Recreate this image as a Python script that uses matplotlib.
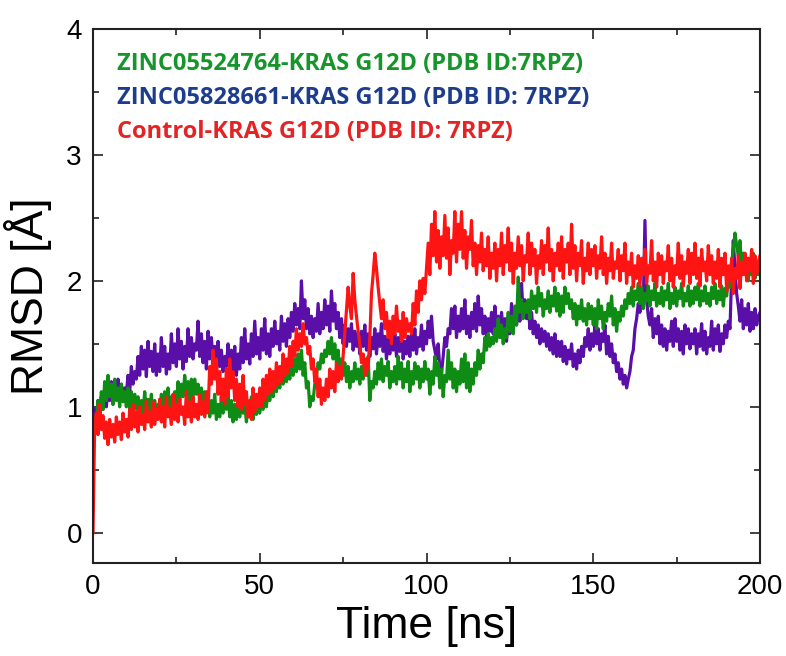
import numpy as np
import matplotlib
matplotlib.use("Agg")
import matplotlib.pyplot as plt
from matplotlib.ticker import MultipleLocator

# RMSD traces sampled every 0.5 ns from 0 to 200 ns
rmsd_control = [
    0.00, 0.85, 0.95, 0.78, 1.02, 0.82, 0.93, 0.75, 0.88, 0.70, 0.90, 0.76, 0.86, 0.72, 0.92, 0.78, 0.88, 0.74, 0.95, 0.80,
    0.90, 0.76, 0.98, 0.82, 1.02, 0.84, 0.96, 0.80, 1.00, 0.86, 0.94, 0.82, 1.05, 0.88, 0.96, 0.84, 1.04, 0.86, 0.98, 0.90,
    1.06, 0.88, 1.00, 0.84, 1.08, 0.92, 0.98, 0.86, 1.10, 0.90, 1.02, 0.88, 1.06, 0.94, 1.00, 0.86, 1.12, 0.92, 1.04, 0.88,
    1.08, 0.92, 1.02, 0.90, 1.10, 0.94, 1.04, 0.92, 1.12, 0.96, 1.32, 1.18, 1.45, 1.22, 1.38, 1.10, 1.28, 1.05, 1.22, 1.02,
    1.30, 1.08, 1.38, 1.15, 1.28, 1.05, 1.22, 1.00, 1.18, 0.98, 1.25, 1.02, 1.12, 0.92, 1.05, 0.90, 1.15, 0.96, 1.10, 1.00,
    1.15, 1.00, 1.22, 1.05, 1.25, 1.10, 1.30, 1.12, 1.28, 1.15, 1.35, 1.18, 1.32, 1.20, 1.42, 1.25, 1.38, 1.28, 1.48, 1.32,
    1.52, 1.40, 1.62, 1.45, 1.58, 1.48, 1.66, 1.50, 1.55, 1.42, 1.48, 1.30, 1.38, 1.20, 1.30, 1.08, 1.22, 1.02, 1.15, 1.05,
    1.22, 1.08, 1.30, 1.15, 1.28, 1.12, 1.35, 1.20, 1.32, 1.22, 1.40, 1.58, 1.75, 1.95, 1.80, 1.70, 2.06, 1.85, 1.72, 1.60,
    1.50, 1.35, 1.42, 1.25, 1.38, 1.30, 1.55, 1.90, 2.05, 2.22, 2.10, 1.95, 1.82, 1.70, 1.85, 1.62, 1.75, 1.55, 1.68, 1.50,
    1.72, 1.58, 1.80, 1.60, 1.68, 1.52, 1.75, 1.55, 1.70, 1.60, 1.66, 1.58, 1.82, 1.65, 1.92, 1.75, 2.00, 1.85, 2.02, 1.90,
    2.10, 2.30, 2.05, 2.45, 2.20, 2.55, 2.15, 2.40, 2.10, 2.35, 2.20, 2.52, 2.18, 2.42, 2.05, 2.32, 2.22, 2.55, 2.15, 2.45,
    2.25, 2.55, 2.18, 2.40, 2.10, 2.35, 2.25, 2.48, 2.12, 2.30, 2.05, 2.28, 2.15, 2.38, 2.08, 2.25, 2.12, 2.35, 2.02, 2.22,
    2.10, 2.30, 2.00, 2.25, 2.12, 2.38, 2.05, 2.28, 2.15, 2.42, 2.08, 2.30, 1.98, 2.22, 2.10, 2.35, 2.12, 2.28, 2.00, 2.20,
    2.15, 2.38, 2.05, 2.30, 2.12, 2.25, 1.98, 2.20, 2.10, 2.32, 2.05, 2.28, 2.15, 2.42, 2.08, 2.25, 2.00, 2.22, 2.12, 2.30,
    2.08, 2.35, 2.02, 2.25, 2.15, 2.30, 2.05, 2.45, 2.10, 2.28, 2.00, 2.22, 2.12, 2.32, 1.98, 2.18, 2.08, 2.30, 2.05, 2.25,
    2.12, 2.28, 2.02, 2.20, 2.10, 2.35, 2.05, 2.22, 1.98, 2.18, 2.08, 2.30, 2.02, 2.15, 2.10, 2.25, 2.00, 2.20, 2.08, 2.30,
    1.98, 2.15, 2.05, 2.22, 1.95, 2.12, 2.02, 2.20, 1.96, 2.18, 2.05, 2.25, 1.98, 2.12, 2.06, 2.32, 2.00, 2.15, 1.95, 2.22,
    2.05, 2.20, 1.98, 2.15, 2.08, 2.28, 2.00, 2.18, 1.95, 2.12, 2.05, 2.30, 2.02, 2.20, 1.96, 2.15, 2.06, 2.25, 1.98, 2.22,
    2.05, 2.30, 2.02, 2.18, 1.96, 2.25, 2.08, 2.15, 2.00, 2.28, 2.05, 2.20, 1.98, 2.15, 2.02, 2.25, 1.95, 2.18, 2.05, 2.22,
    1.92, 2.12, 2.00, 2.18, 1.90, 2.10, 2.02, 2.20, 1.94, 2.15, 2.05, 2.22, 2.00, 2.18, 2.08, 2.25, 1.98, 2.20, 2.05, 2.15,
    2.20,
]

rmsd_zinc05828661 = [
    0.80, 0.98, 0.88, 1.05, 0.92, 1.08, 0.98, 1.12, 1.00, 1.15, 1.05, 1.20, 1.02, 1.16, 1.06, 1.22, 1.04, 1.18, 1.08, 1.15,
    1.10, 1.25, 1.12, 1.32, 1.18, 1.28, 1.22, 1.40, 1.25, 1.48, 1.30, 1.45, 1.24, 1.52, 1.32, 1.44, 1.28, 1.50, 1.25, 1.42,
    1.28, 1.55, 1.32, 1.48, 1.26, 1.42, 1.30, 1.58, 1.35, 1.50, 1.32, 1.62, 1.38, 1.52, 1.30, 1.48, 1.36, 1.62, 1.40, 1.55,
    1.38, 1.50, 1.45, 1.68, 1.40, 1.58, 1.35, 1.52, 1.30, 1.60, 1.38, 1.55, 1.35, 1.48, 1.28, 1.52, 1.32, 1.45, 1.28, 1.40,
    1.32, 1.50, 1.30, 1.45, 1.28, 1.48, 1.25, 1.42, 1.30, 1.55, 1.35, 1.62, 1.38, 1.50, 1.34, 1.58, 1.40, 1.68, 1.42, 1.55,
    1.38, 1.62, 1.45, 1.70, 1.42, 1.58, 1.40, 1.62, 1.48, 1.68, 1.50, 1.60, 1.45, 1.72, 1.52, 1.66, 1.48, 1.70, 1.55, 1.75,
    1.60, 1.82, 1.65, 1.78, 1.62, 2.00, 1.70, 1.85, 1.62, 1.78, 1.58, 1.72, 1.55, 1.70, 1.60, 1.82, 1.58, 1.75, 1.62, 1.85,
    1.65, 1.80, 1.60, 1.92, 1.68, 1.82, 1.62, 1.75, 1.55, 1.70, 1.50, 1.65, 1.48, 1.62, 1.52, 1.66, 1.45, 1.60, 1.48, 1.58,
    1.42, 1.60, 1.48, 1.65, 1.45, 1.58, 1.40, 1.55, 1.46, 1.62, 1.42, 1.58, 1.48, 1.66, 1.44, 1.56, 1.38, 1.54, 1.42, 1.60,
    1.45, 1.58, 1.40, 1.55, 1.44, 1.60, 1.38, 1.52, 1.42, 1.56, 1.40, 1.58, 1.45, 1.62, 1.42, 1.55, 1.48, 1.65, 1.45, 1.60,
    1.50, 1.68, 1.55, 1.72, 1.52, 1.45, 1.38, 1.50, 1.30, 1.27, 1.40, 1.55, 1.48, 1.62, 1.58, 1.78, 1.62, 1.80, 1.55, 1.72,
    1.60, 1.78, 1.62, 1.85, 1.58, 1.72, 1.55, 1.75, 1.62, 1.82, 1.60, 1.88, 1.65, 1.78, 1.58, 1.72, 1.55, 1.70, 1.60, 1.75,
    1.58, 1.80, 1.62, 1.72, 1.55, 1.75, 1.60, 1.70, 1.52, 1.72, 1.58, 1.82, 1.62, 1.76, 1.65, 1.85, 1.68, 1.98, 1.72, 1.85,
    1.70, 1.82, 1.62, 1.75, 1.58, 1.68, 1.55, 1.65, 1.50, 1.62, 1.52, 1.60, 1.48, 1.58, 1.45, 1.55, 1.42, 1.58, 1.40, 1.52,
    1.40, 1.52, 1.36, 1.48, 1.34, 1.45, 1.38, 1.50, 1.32, 1.42, 1.30, 1.45, 1.35, 1.48, 1.40, 1.55, 1.48, 1.62, 1.45, 1.58,
    1.48, 1.65, 1.50, 1.62, 1.45, 1.58, 1.52, 1.65, 1.42, 1.56, 1.40, 1.50, 1.35, 1.42, 1.28, 1.35, 1.22, 1.30, 1.18, 1.25,
    1.15, 1.22, 1.28, 1.40, 1.45, 1.62, 1.70, 1.82, 1.75, 1.87, 1.80, 2.48, 1.85, 1.72, 1.65, 1.78, 1.55, 1.70, 1.58, 1.72,
    1.50, 1.65, 1.48, 1.62, 1.45, 1.60, 1.52, 1.68, 1.48, 1.70, 1.52, 1.62, 1.45, 1.60, 1.42, 1.65, 1.50, 1.62, 1.46, 1.58,
    1.50, 1.62, 1.42, 1.58, 1.48, 1.66, 1.45, 1.60, 1.42, 1.55, 1.48, 1.68, 1.45, 1.62, 1.50, 1.65, 1.44, 1.58, 1.50, 1.65,
    1.55, 1.68, 1.62, 2.05, 2.32, 2.10, 1.90, 1.80, 1.68, 1.85, 1.62, 1.78, 1.65, 1.82, 1.60, 1.75, 1.62, 1.78, 1.65, 1.72,
    1.75,
]

rmsd_zinc05524764 = [
    0.65, 0.92, 0.85, 1.05, 0.95, 1.12, 0.98, 1.20, 1.05, 1.25, 1.08, 1.18, 1.02, 1.22, 1.05, 1.15, 1.00, 1.18, 1.04, 1.12,
    1.00, 1.15, 0.98, 1.12, 0.95, 1.10, 0.98, 1.08, 0.92, 1.05, 0.94, 1.12, 0.98, 1.06, 0.95, 1.10, 0.92, 1.05, 0.90, 1.02,
    0.94, 1.10, 0.96, 1.12, 1.00, 1.15, 0.98, 1.08, 0.95, 1.12, 1.02, 1.20, 1.05, 1.18, 1.08, 1.25, 1.10, 1.20, 1.05, 1.22,
    1.08, 1.22, 1.10, 1.18, 1.05, 1.15, 1.00, 1.12, 0.95, 1.08, 0.92, 1.05, 0.95, 1.10, 0.90, 1.02, 0.92, 1.08, 0.95, 1.05,
    0.98, 1.10, 0.92, 1.05, 0.88, 1.02, 0.90, 1.05, 0.92, 1.08, 0.95, 1.02, 0.88, 1.00, 0.92, 1.08, 0.90, 1.02, 0.94, 1.05,
    0.95, 1.05, 0.98, 1.12, 1.00, 1.15, 1.05, 1.18, 1.08, 1.22, 1.12, 1.25, 1.15, 1.30, 1.18, 1.28, 1.20, 1.32, 1.22, 1.35,
    1.25, 1.38, 1.28, 1.42, 1.30, 1.45, 1.25, 1.35, 1.15, 1.20, 1.00, 1.08, 1.05, 1.18, 1.25, 1.35, 1.30, 1.42, 1.35, 1.45,
    1.40, 1.52, 1.42, 1.55, 1.38, 1.50, 1.35, 1.45, 1.28, 1.38, 1.25, 1.35, 1.20, 1.32, 1.15, 1.28, 1.20, 1.35, 1.22, 1.30,
    1.18, 1.32, 1.22, 1.38, 1.25, 1.40, 1.05, 1.20, 1.15, 1.28, 1.18, 1.35, 1.22, 1.38, 1.20, 1.32, 1.25, 1.36, 1.15, 1.28,
    1.20, 1.32, 1.18, 1.40, 1.22, 1.35, 1.15, 1.30, 1.20, 1.36, 1.12, 1.28, 1.18, 1.35, 1.22, 1.32, 1.15, 1.30, 1.20, 1.36,
    1.22, 1.30, 1.10, 1.28, 1.18, 1.40, 1.25, 1.35, 1.15, 1.30, 1.08, 1.25, 1.20, 1.45, 1.22, 1.35, 1.15, 1.30, 1.12, 1.28,
    1.18, 1.38, 1.20, 1.42, 1.15, 1.35, 1.12, 1.30, 1.18, 1.35, 1.25, 1.45, 1.30, 1.42, 1.35, 1.55, 1.45, 1.58, 1.48, 1.55,
    1.50, 1.62, 1.52, 1.70, 1.55, 1.65, 1.50, 1.62, 1.55, 1.75, 1.60, 1.72, 1.58, 1.80, 1.65, 2.03, 1.75, 1.85, 1.70, 1.82,
    1.75, 1.85, 1.70, 1.92, 1.78, 1.88, 1.75, 1.95, 1.80, 1.90, 1.72, 1.85, 1.78, 1.92, 1.75, 1.88, 1.80, 1.95, 1.76, 1.90,
    1.72, 1.88, 1.75, 1.95, 1.82, 1.90, 1.78, 1.85, 1.70, 1.82, 1.65, 1.80, 1.70, 1.85, 1.68, 1.78, 1.65, 1.82, 1.70, 1.80,
    1.65, 1.78, 1.62, 1.85, 1.70, 1.80, 1.62, 1.75, 1.68, 1.82, 1.72, 1.88, 1.65, 1.78, 1.60, 1.75, 1.68, 1.80, 1.72, 1.85,
    1.78, 1.90, 1.82, 1.95, 1.80, 1.92, 1.85, 1.98, 1.82, 1.95, 1.78, 1.90, 1.84, 1.96, 1.80, 1.92, 1.85, 1.98, 1.80, 1.90,
    1.82, 1.95, 1.80, 1.92, 1.85, 1.98, 1.78, 1.90, 1.82, 1.95, 1.80, 1.92, 1.86, 1.98, 1.80, 1.90, 1.84, 1.96, 1.80, 1.92,
    1.82, 1.95, 1.85, 1.98, 1.80, 1.92, 1.84, 1.96, 1.82, 1.90, 1.80, 1.95, 1.86, 1.98, 1.82, 1.92, 1.85, 1.96, 1.80, 1.94,
    1.88, 2.00, 1.95, 2.15, 2.25, 2.38, 2.28, 2.20, 2.32, 2.10, 2.22, 2.05, 2.18, 2.00, 2.15, 2.05, 2.22, 2.02, 2.12, 2.05,
    2.10,
]

labels = [
    "ZINC05524764-KRAS G12D (PDB ID:7RPZ)",
    "ZINC05828661-KRAS G12D (PDB ID: 7RPZ)",
    "Control-KRAS G12D (PDB ID: 7RPZ)",
]
label_colors = ["#15952a", "#1c3c8c", "#e42424"]

plt.rcParams["font.family"] = ["Liberation Sans", "DejaVu Sans"]

W, H = 786, 656
fig = plt.figure(figsize=(W / 100, H / 100), dpi=100)
ax = fig.add_axes([93 / W, 1 - 563 / H, (760 - 93) / W, (563 - 29) / H])


def times(series):
    return np.linspace(0, 200, len(series))


ax.plot(times(rmsd_zinc05828661), rmsd_zinc05828661, color="#5a0fa8", lw=2.3)
ax.plot(times(rmsd_zinc05524764), rmsd_zinc05524764, color="#0e8c14", lw=2.3)
ax.plot(times(rmsd_control), rmsd_control, color="#ff1414", lw=2.3)

ax.set_xlim(0, 200)
ax.set_ylim(-0.24, 4)
ax.xaxis.set_major_locator(MultipleLocator(50))
ax.xaxis.set_minor_locator(MultipleLocator(25))
ax.yaxis.set_major_locator(MultipleLocator(1))
ax.yaxis.set_minor_locator(MultipleLocator(0.5))
ax.tick_params(which="both", direction="in", top=True, right=True, width=1.2, color="#222222")
ax.tick_params(which="major", length=7, labelsize=20, pad=8)
ax.tick_params(which="minor", length=4)
for s in ax.spines.values():
    s.set_linewidth(1.5)
    s.set_color("#222222")

ax.set_xlabel("Time [ns]", fontsize=32, labelpad=4)
ax.set_ylabel("RMSD [Å]", fontsize=32, labelpad=10)

for i, (lab, col) in enumerate(zip(labels, label_colors)):
    fig.text(117 / W, 1 - (64 + 34 * i) / H, lab, color=col, fontsize=17,
             fontweight="bold", family=["Open Sans", "DejaVu Sans"], va="center", ha="left")

fig.savefig("out.png", dpi=100)
